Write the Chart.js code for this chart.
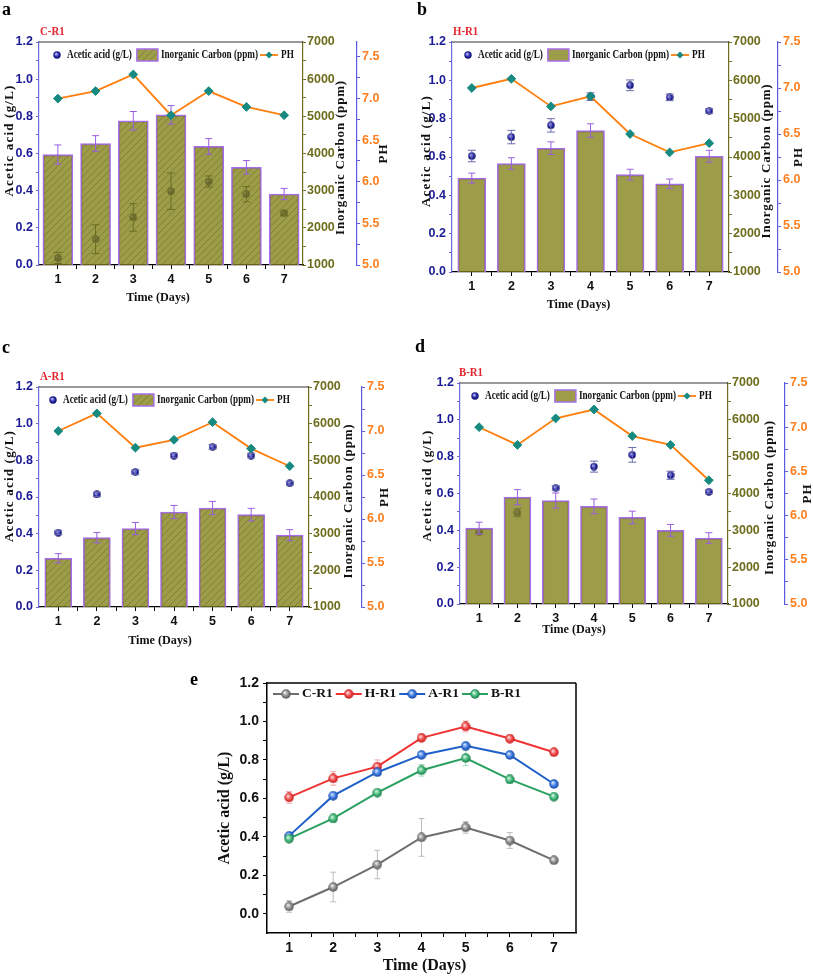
<!DOCTYPE html>
<html><head><meta charset="utf-8">
<script src="https://cdn.jsdelivr.net/npm/chart.js@4.4.1/dist/chart.umd.min.js"></script>
<style>
html,body{margin:0;padding:0;background:#fff;width:813px;height:976px;overflow:hidden}
canvas{position:absolute}
</style></head><body>
<canvas id="ca" width="400" height="320" style="left:0;top:0"></canvas>
<canvas id="cb" width="413" height="320" style="left:400px;top:0"></canvas>
<canvas id="cc" width="400" height="330" style="left:0;top:320px"></canvas>
<canvas id="cd" width="413" height="330" style="left:400px;top:320px"></canvas>
<canvas id="ce" width="433" height="326" style="left:180px;top:650px"></canvas>
<script>
// ---------------- DATA ----------------
const days = [1, 2, 3, 4, 5, 6, 7];
const dayTicks = [1, 2, 3, 4, 5, 6, 7];
const aceticTicks = [0.0, 0.2, 0.4, 0.6, 0.8, 1.0, 1.2];
const icTicks = [1000, 2000, 3000, 4000, 5000, 6000, 7000];
const phTicks = [5.0, 5.5, 6.0, 6.5, 7.0, 7.5];

const acetic_C = [0.038, 0.139, 0.256, 0.397, 0.449, 0.381, 0.278];
const aceticErr_C = [0.030, 0.077, 0.074, 0.098, 0.030, 0.041, 0.012];
const acetic_H = [0.605, 0.704, 0.765, 0.915, 0.974, 0.911, 0.840];
const aceticErr_H = [0.030, 0.035, 0.035, 0.020, 0.028, 0.017, 0.012];
const acetic_A = [0.405, 0.614, 0.736, 0.826, 0.873, 0.826, 0.675];
const aceticErr_A = [0.010, 0.012, 0.012, 0.012, 0.012, 0.012, 0.010];
const acetic_B = [0.391, 0.496, 0.630, 0.746, 0.810, 0.699, 0.609];
const aceticErr_B = [0.012, 0.022, 0.012, 0.030, 0.040, 0.022, 0.010];

const ic_C = [3970, 4270, 4880, 5040, 4190, 3630, 2910];
const icErr_C = [260, 210, 250, 250, 210, 180, 150];
const ic_H = [3450, 3830, 4230, 4690, 3540, 3300, 4020];
const icErr_H = [130, 150, 165, 175, 140, 125, 155];
const ic_A = [2330, 2890, 3140, 3590, 3700, 3520, 2960];
const icErr_A = [125, 140, 165, 180, 180, 170, 150];
const ic_B = [3060, 3900, 3810, 3650, 3350, 3000, 2790];
const icErr_B = [160, 205, 205, 200, 170, 160, 145];

const ph_C = [7.00, 7.09, 7.29, 6.80, 7.09, 6.90, 6.80];
const ph_H = [7.00, 7.10, 6.80, 6.91, 6.50, 6.30, 6.40];
const ph_A = [7.00, 7.20, 6.81, 6.90, 7.10, 6.80, 6.60];
const ph_B = [7.00, 6.80, 7.10, 7.20, 6.90, 6.80, 6.40];

// ---------------- STYLE ----------------
const SERIF = "'Liberation Serif','DejaVu Serif',serif";
const SANS = "'Liberation Sans',Arial,sans-serif";
const NARROW = "'Liberation Sans Narrow','Liberation Sans',Arial,sans-serif";
const BAR_FILL = 'rgba(128,128,22,0.78)';
const BAR_BORDER = '#a66ee8';
const PH_LINE = '#ff7f0e';
const PH_MARK = '#168a80';

function xy(xs, ys) { return xs.map((x, i) => ({x: x, y: ys[i]})); }

function sphere(d, light, mid, dark) {
  const c = document.createElement('canvas'); c.width = c.height = d;
  const g = c.getContext('2d'); const r = d / 2;
  const grad = g.createRadialGradient(r * 0.75, r * 0.7, r * 0.05, r, r, r);
  grad.addColorStop(0, light); grad.addColorStop(0.55, mid); grad.addColorStop(1, dark);
  g.fillStyle = grad; g.beginPath(); g.arc(r, r, r - 0.3, 0, Math.PI * 2); g.fill();
  return c;
}
const navyBall = sphere(8, '#c8c8ff', '#2626a8', '#0a0a5e');

function hatchPattern(ctx) {
  const c = document.createElement('canvas'); c.width = c.height = 7;
  const g = c.getContext('2d');
  g.fillStyle = BAR_FILL; g.fillRect(0, 0, 7, 7);
  g.strokeStyle = 'rgba(80,80,10,0.45)'; g.lineWidth = 0.8;
  g.beginPath(); g.moveTo(0, 7); g.lineTo(7, 0); g.moveTo(-1, 1); g.lineTo(1, -1); g.moveTo(6, 8); g.lineTo(8, 6); g.stroke();
  return ctx.createPattern(c, 'repeat');
}

function tickSet(major, fmt) {
  const all = [];
  major.forEach((v, i) => {
    all.push({value: v, lbl: true});
    if (i < major.length - 1) all.push({value: (v + major[i + 1]) / 2, lbl: false});
  });
  return {
    afterBuildTicks: ax => { ax.ticks = all.map(t => ({value: t.value, lbl: t.lbl})); },
    callback: (v, i, ticks) => (ticks[i] && ticks[i].lbl) ? fmt(v) : ''
  };
}

function mkAxis(o) {
  const ts = tickSet(o.major, o.fmt);
  return {
    type: 'linear', position: o.position, min: o.min, max: o.max, offset: false, weight: o.weight || 0,
    afterBuildTicks: ts.afterBuildTicks,
    afterFit: ax => { if (o.w != null) ax.width = o.w; if (o.h != null) ax.height = o.h; },
    ticks: {callback: ts.callback, color: o.labelColor, font: {family: o.family, size: o.size, weight: 'bold'},
            padding: o.pad, autoSkip: false, maxRotation: 0, minRotation: 0},
    grid: {display: true, drawOnChartArea: false, drawTicks: true, tickLength: o.tickLen || 3,
           color: o.lineColor, offset: false, lineWidth: 1},
    border: {display: true, color: o.lineColor, width: o.lineW || 1.2},
    title: {display: false}
  };
}

function htext(ctx, t, x, y, font, color, align, sx) {
  ctx.save(); ctx.font = font; ctx.fillStyle = color; ctx.textBaseline = 'middle'; ctx.textAlign = align;
  ctx.letterSpacing = '0px';
  ctx.translate(x, y); ctx.scale(sx, 1); ctx.fillText(t, 0, 0); ctx.restore();
}
function textW(ctx, t, font, sx) { ctx.save(); ctx.font = font; ctx.letterSpacing = '0px'; const w = ctx.measureText(t).width * sx; ctx.restore(); return w; }
function vtext(ctx, t, x, y, font, color, spacing) {
  ctx.save(); ctx.translate(x, y); ctx.rotate(-Math.PI / 2);
  ctx.font = font; ctx.fillStyle = color; ctx.textAlign = 'center'; ctx.textBaseline = 'middle';
  ctx.letterSpacing = spacing || '0px';
  ctx.fillText(t, 0, 0); ctx.restore();
}
function seg(ctx, x0, y0, x1, y1, color, w) {
  ctx.save(); ctx.strokeStyle = color; ctx.lineWidth = w; ctx.beginPath(); ctx.moveTo(x0, y0); ctx.lineTo(x1, y1); ctx.stroke(); ctx.restore();
}
function errBars(ctx, xs, ys, xv, yv, ev, color, cap, lw) {
  ctx.save(); ctx.strokeStyle = color; ctx.lineWidth = lw; ctx.beginPath();
  xv.forEach((x, i) => {
    const px = xs.getPixelForValue(x);
    const hi = ys.getPixelForValue(yv[i] + ev[i]);
    const lo = ys.getPixelForValue(yv[i] - ev[i]);
    ctx.moveTo(px, hi); ctx.lineTo(px, lo);
    ctx.moveTo(px - cap, hi); ctx.lineTo(px + cap, hi);
    ctx.moveTo(px - cap, lo); ctx.lineTo(px + cap, lo);
  });
  ctx.stroke(); ctx.restore();
}

// ---------------- PANELS a-d ----------------
function triple(L, acetic, aceticErr, ic, icErr, ph) {
  const canvas = document.getElementById(L.id);
  const ctx0 = canvas.getContext('2d');
  const barFill = L.hatch ? hatchPattern(ctx0) : BAR_FILL;
  const deco = {
    id: 'deco',
    afterDatasetDraw(chart, args) {
      const ctx = chart.ctx, x = chart.scales.x;
      if (args.index === 2) errBars(ctx, x, chart.scales.y, days, acetic, aceticErr, L.acErr, 4, 1);
      if (args.index === 1) errBars(ctx, x, chart.scales.y1, days, ic, icErr, '#9a5ee0', 3.5, 1);
    },
    afterDraw(chart) {
      const ctx = chart.ctx, ca = chart.chartArea;
      seg(ctx, ca.left, ca.top, ca.right, ca.top, '#333', 1);
      htext(ctx, L.letter, L.lx, L.ly, 'bold 18px ' + SERIF, '#000', 'left', 1);
      htext(ctx, L.name, ca.left + L.nameDx, ca.top - 10, 'bold 12px ' + SERIF, '#e3262e', 'left', 0.9);
      const midY = (ca.top + ca.bottom) / 2;
      vtext(ctx, 'Acetic acid (g/L)', ca.left + L.ytDx, midY + L.ytShift, 'bold 13px ' + SERIF, '#111', '1.2px');
      vtext(ctx, 'Inorganic Carbon (ppm)', ca.right + L.icDx, midY + 4, 'bold 13px ' + SERIF, '#111', '0.8px');
      vtext(ctx, 'PH', chart.scales.y2.left + L.phDx, midY, 'bold 13px ' + SERIF, '#111', '1px');
      htext(ctx, 'Time (Days)', (ca.left + ca.right) / 2 + L.xtDx, ca.bottom + L.xtDy, 'bold 13.5px ' + SERIF, '#111', 'center', 0.9);
      // legend
      const f = 'bold 11.5px ' + SERIF, sx = 0.8;
      const ly = ca.top + 13; let lx = ca.left + L.legDx;
      ctx.drawImage(navyBall, lx - navyBall.width / 2, ly - navyBall.height / 2);
      lx += 10;
      let w = textW(ctx, 'Acetic acid (g/L)', f, sx); htext(ctx, 'Acetic acid (g/L)', lx, ly, f, '#111', 'left', sx); lx += w + 5;
      ctx.save(); ctx.fillStyle = barFill; ctx.fillRect(lx, ly - 6, 21, 12);
      ctx.strokeStyle = BAR_BORDER; ctx.lineWidth = 1.5; ctx.strokeRect(lx, ly - 6, 21, 12); ctx.restore();
      lx += 24;
      w = textW(ctx, 'Inorganic Carbon (ppm)', f, sx); htext(ctx, 'Inorganic Carbon (ppm)', lx, ly, f, '#111', 'left', sx); lx += w + 2;
      seg(ctx, lx, ly, lx + 18, ly, PH_LINE, 1.8);
      ctx.save(); ctx.fillStyle = PH_MARK; ctx.beginPath(); const cx = lx + 9, r = 3.5;
      ctx.moveTo(cx, ly - r); ctx.lineTo(cx + r, ly); ctx.lineTo(cx, ly + r); ctx.lineTo(cx - r, ly); ctx.closePath(); ctx.fill(); ctx.restore();
      lx += 21;
      htext(ctx, 'PH', lx, ly, f, '#111', 'left', sx);
    }
  };
  return new Chart(ctx0, {
    type: 'bar',
    data: {datasets: [
      {type: 'line', label: 'PH', data: xy(days, ph), yAxisID: 'y2', xAxisID: 'x', borderColor: PH_LINE, borderWidth: 1.8,
       pointStyle: 'rectRot', pointRadius: 4.4, pointBackgroundColor: PH_MARK, pointBorderColor: PH_MARK, pointBorderWidth: 1,
       tension: 0, fill: false, order: 0},
      {type: 'bar', label: 'Inorganic Carbon (ppm)', data: xy(days, ic), yAxisID: 'y1', xAxisID: 'x', backgroundColor: barFill,
       borderColor: BAR_BORDER, borderWidth: 1.5, barThickness: L.barW, order: 1},
      {type: 'line', label: 'Acetic acid (g/L)', data: xy(days, acetic), yAxisID: 'y', xAxisID: 'x', showLine: false,
       pointStyle: navyBall, pointRadius: 4, order: 2}
    ]},
    options: {
      responsive: false, animation: false, events: [],
      layout: {padding: {top: L.padTop, left: 0, right: 0, bottom: 0}},
      plugins: {legend: {display: false}, tooltip: {enabled: false}},
      scales: {
        x: mkAxis({position: 'bottom', min: 0.5, max: 7.5, major: dayTicks, fmt: v => String(v), labelColor: '#111',
                   family: NARROW, size: 12.5, pad: 3, lineColor: '#000', lineW: 1.2, h: L.xH, tickLen: 4}),
        y: mkAxis({position: 'left', min: 0, max: 1.2, major: aceticTicks, fmt: v => v.toFixed(1), labelColor: '#1a1a96',
                   family: NARROW, size: 12.5, pad: 3, lineColor: '#6a6ad8', lineW: 1.2, w: L.yW, tickLen: 3}),
        y1: mkAxis({position: 'right', weight: 1, min: 1000, max: 7000, major: icTicks, fmt: v => String(v), labelColor: '#6d6d1d',
                   family: NARROW, size: 12.5, pad: 1, lineColor: '#6d6d1d', lineW: 1.2, w: L.y1W, tickLen: 3}),
        y2: mkAxis({position: 'right', weight: 2, min: 5, max: L.phMax, major: phTicks, fmt: v => v.toFixed(1), labelColor: '#ff7f1f',
                   family: NARROW, size: 12.5, pad: 2, lineColor: '#5a5ae0', lineW: 1.2, w: L.y2W, tickLen: 3})
      }
    },
    plugins: [deco]
  });
}

triple({id: 'ca', letter: 'a', lx: 2, ly: 10, name: 'C-R1', nameDx: 1, padTop: 42, yW: 39, y1W: 54, y2W: 43, xH: 55,
        phMax: 7.68, barW: 30, hatch: true, ytDx: -29, ytShift: -13, icDx: 38, phDx: 27, xtDx: -13, xtDy: 33,
        legDx: 18, acErr: '#2f2f55'},
       acetic_C, aceticErr_C, ic_C, icErr_C, ph_C);
triple({id: 'cb', letter: 'b', lx: 17, ly: 10, name: 'H-R1', nameDx: 1, padTop: 42, yW: 52, y1W: 49, y2W: 35, xH: 48,
        phMax: 7.5, barW: 28, hatch: false, ytDx: -25, ytShift: -6, icDx: 38, phDx: 21, xtDx: -12, xtDy: 33,
        legDx: 16, acErr: '#6b6bb0'},
       acetic_H, aceticErr_H, ic_H, icErr_H, ph_H);
triple({id: 'cc', letter: 'c', lx: 2, ly: 28, name: 'A-R1', nameDx: 1, padTop: 67, yW: 39, y1W: 53, y2W: 38, xH: 43,
        phMax: 7.5, barW: 27, hatch: true, ytDx: -29, ytShift: -11, icDx: 40, phDx: 23, xtDx: -14, xtDy: 34,
        legDx: 14, acErr: '#6b6bb0'},
       acetic_A, aceticErr_A, ic_A, icErr_A, ph_A);
triple({id: 'cd', letter: 'd', lx: 15, ly: 27, name: 'B-R1', nameDx: -1, padTop: 63, yW: 60, y1W: 57, y2W: 28, xH: 46,
        phMax: 7.5, barW: 27, hatch: false, ytDx: -32, ytShift: -8, icDx: 42, phDx: 23, xtDx: -20, xtDy: 26,
        legDx: 15, acErr: '#6b6bb0'},
       acetic_B, aceticErr_B, ic_B, icErr_B, ph_B);

// ---------------- PANEL e ----------------
const seriesE = [
  {label: 'C-R1', vals: acetic_C, err: aceticErr_C, color: '#6e6e6e', errColor: '#bcbcbc', ball: sphere(10, '#f2f2f2', '#8c8c8c', '#505050')},
  {label: 'H-R1', vals: acetic_H, err: aceticErr_H, color: '#f03232', errColor: '#f4a8a8', ball: sphere(10, '#ffe4e4', '#f04a4a', '#c01414')},
  {label: 'A-R1', vals: acetic_A, err: aceticErr_A, color: '#1f5fc8', errColor: '#a2bbe6', ball: sphere(10, '#dce9ff', '#3a7ae0', '#103c98')},
  {label: 'B-R1', vals: acetic_B, err: aceticErr_B, color: '#2aa060', errColor: '#a2dabc', ball: sphere(10, '#e0f6e9', '#40b878', '#177244')}
];
(function () {
  const ctx0 = document.getElementById('ce').getContext('2d');
  const deco = {
    id: 'decoE',
    beforeDatasetsDraw(chart) {
      const ctx = chart.ctx;
      seriesE.forEach(s => errBars(ctx, chart.scales.x, chart.scales.y, days, s.vals, s.err, s.errColor, 3, 1));
    },
    afterDraw(chart) {
      const ctx = chart.ctx, ca = chart.chartArea;
      seg(ctx, ca.left, ca.top, ca.right, ca.top, '#000', 1.5);
      seg(ctx, ca.right, ca.top, ca.right, ca.bottom, '#000', 1.5);
      htext(ctx, 'e', 10, 30, 'bold 18px ' + SERIF, '#000', 'left', 1);
      vtext(ctx, 'Acetic acid (g/L)', ca.left - 42, (ca.top + ca.bottom) / 2, 'bold 16px ' + SERIF, '#111', '0px');
      htext(ctx, 'Time (Days)', (ca.left + ca.right) / 2 + 3, ca.bottom + 33, 'bold 16px ' + SERIF, '#111', 'center', 1);
      const f = 'bold 13.5px ' + SERIF;
      const ly = ca.top + 11; let lx = ca.left + 6;
      seriesE.forEach(s => {
        seg(ctx, lx, ly, lx + 26, ly, s.color, 2);
        ctx.drawImage(s.ball, lx + 13 - s.ball.width / 2, ly - s.ball.height / 2);
        lx += 29;
        const w = textW(ctx, s.label, f, 1);
        htext(ctx, s.label, lx, ly, f, '#111', 'left', 1);
        lx += w + 3;
      });
    }
  };
  new Chart(ctx0, {
    type: 'line',
    data: {datasets: seriesE.map((s, i) => ({
      label: s.label, data: xy(days, s.vals), borderColor: s.color, borderWidth: 2, tension: 0, fill: false,
      pointStyle: s.ball, pointRadius: 5, order: 3 - i
    }))},
    options: {
      responsive: false, animation: false, events: [],
      layout: {padding: {top: 33, left: 0, right: 37, bottom: 0}},
      plugins: {legend: {display: false}, tooltip: {enabled: false}},
      scales: {
        x: mkAxis({position: 'bottom', min: 0.5, max: 7.5, major: dayTicks, fmt: v => String(v), labelColor: '#111',
                   family: SANS, size: 14, pad: 3, lineColor: '#000', lineW: 1.5, h: 43, tickLen: 4}),
        y: mkAxis({position: 'left', min: -0.1, max: 1.2, major: aceticTicks, fmt: v => v.toFixed(1), labelColor: '#111',
                   family: SANS, size: 14, pad: 4, lineColor: '#000', lineW: 1.5, w: 87, tickLen: 4})
      }
    },
    plugins: [deco]
  });
})();
</script>
</body></html>
